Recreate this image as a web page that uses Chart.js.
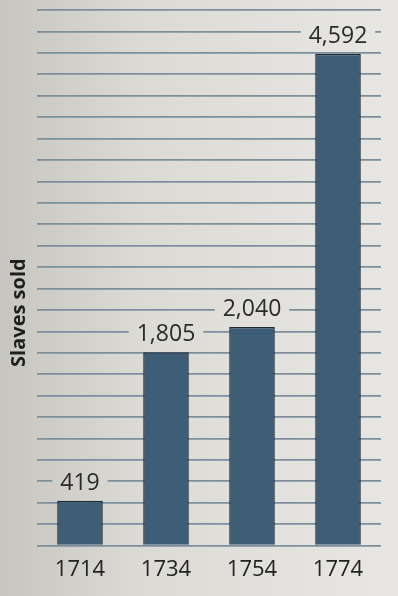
<!DOCTYPE html>
<html>
<head>
<meta charset="utf-8">
<script src="https://cdn.jsdelivr.net/npm/chart.js@4/dist/chart.umd.min.js"></script>
<style>
  html, body { margin: 0; padding: 0; background: #dcdad5; }
  #wrap { width: 398px; height: 596px; position: relative; }
</style>
</head>
<body>
<div id="wrap"><canvas id="c" width="398" height="596"></canvas></div>
<script>
const categories = ['1714', '1734', '1754', '1774'];
const slavesSold = [419, 1805, 2040, 4592];
const valueLabels = ['419', '1,805', '2,040', '4,592'];
const yAxisTitle = 'Slaves sold';
const yMax = 5000;
const yStep = 200;

function makeBg(ctx, w) {
  const g = ctx.createLinearGradient(0, 0, w, 0);
  g.addColorStop(0, '#c7c5c0');
  g.addColorStop(0.35, '#dcdad5');
  g.addColorStop(1, '#e9e7e3');
  return g;
}

const bgPlugin = {
  id: 'bg',
  beforeDraw(chart) {
    const ctx = chart.ctx;
    ctx.save();
    ctx.fillStyle = makeBg(ctx, chart.width);
    ctx.fillRect(0, 0, chart.width, chart.height);
    ctx.restore();
  }
};

const titlePlugin = {
  id: 'yTitle',
  afterDraw(chart) {
    const ctx = chart.ctx;
    const a = chart.chartArea;
    ctx.save();
    ctx.translate(19, a.top + (a.bottom - a.top) * 0.565);
    ctx.rotate(-Math.PI / 2);
    ctx.font = 'bold 20px "Open Sans", sans-serif';
    ctx.fillStyle = '#1e1e1e';
    ctx.textAlign = 'center';
    ctx.textBaseline = 'middle';
    ctx.fillText(yAxisTitle, 0, 0);
    ctx.restore();
  }
};

const labelPlugin = {
  id: 'valueLabels',
  afterDatasetsDraw(chart) {
    const ctx = chart.ctx;
    const meta = chart.getDatasetMeta(0);
    ctx.save();
    ctx.font = '23px "Open Sans", sans-serif';
    ctx.textAlign = 'center';
    ctx.textBaseline = 'alphabetic';
    meta.data.forEach((bar, i) => {
      const txt = valueLabels[i];
      const w = ctx.measureText(txt).width;
      const baseY = bar.y - 11;
      ctx.fillStyle = makeBg(ctx, chart.width);
      ctx.fillRect(bar.x - w / 2 - 8, baseY - 23, w + 16, 30);
      ctx.fillStyle = '#2a2a2a';
      ctx.fillText(txt, bar.x, baseY);
    });
    ctx.restore();
  }
};

new Chart(document.getElementById('c'), {
  type: 'bar',
  data: {
    labels: categories,
    datasets: [{
      data: slavesSold,
      backgroundColor: '#3e5e77',
      borderColor: '#1e2b36',
      borderWidth: 1.5,
      barPercentage: 0.53,
      categoryPercentage: 1
    }]
  },
  options: {
    responsive: false,
    animation: false,
    layout: { padding: { left: 37, right: 17, top: 10, bottom: 2 } },
    plugins: { legend: { display: false }, tooltip: { enabled: false } },
    scales: {
      x: {
        grid: { display: false, drawTicks: false },
        border: { display: false },
        ticks: { color: '#222', font: { family: 'Open Sans', size: 22 }, padding: 11 }
      },
      y: {
        min: 0, max: yMax,
        ticks: { display: false, stepSize: yStep },
        grid: { color: '#7d8f9e', lineWidth: 1.7, drawTicks: false },
        border: { display: false }
      }
    }
  },
  plugins: [bgPlugin, labelPlugin, titlePlugin]
});
</script>
</body>
</html>
